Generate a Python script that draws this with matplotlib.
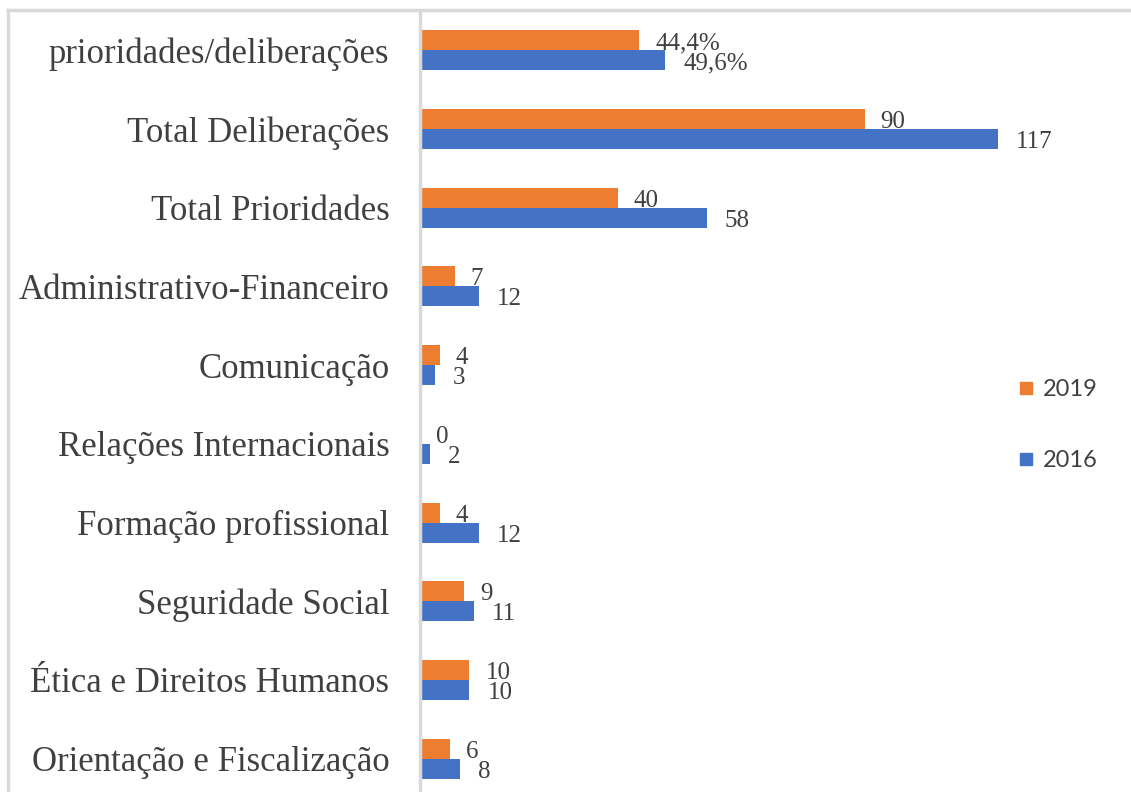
import numpy as np
import matplotlib.pyplot as plt
from matplotlib.lines import Line2D

# categories, top to bottom
categories = ['prioridades/deliberações', 'Total Deliberações', 'Total Prioridades',
              'Administrativo-Financeiro', 'Comunicação', 'Relações Internacionais',
              'Formação profissional', 'Seguridade Social', 'Ética e Direitos Humanos',
              'Orientação e Fiscalização']
vals_2019 = [44.4, 90, 40, 7, 4, 0, 4, 9, 10, 6]
vals_2016 = [49.6, 117, 58, 12, 3, 2, 12, 11, 10, 8]
labels_2019 = ['44,4%', '90', '40', '7', '4', '0', '4', '9', '10', '6']
labels_2016 = ['49,6%', '117', '58', '12', '3', '2', '12', '11', '10', '8']

orange = '#ED7D31'
blue = '#4472C4'
txt = '#404040'
grid = '#D9D9D9'

W, H = 1131, 792
fig = plt.figure(figsize=(W / 100, H / 100), dpi=100)

# plot area in pixel terms
left_px, top_px = 420, 11
bottom_px = 798
xmax = 140
right_px = left_px + xmax * 4.94
ax = fig.add_axes([left_px / W, 1 - bottom_px / H,
                   (right_px - left_px) / W, (bottom_px - top_px) / H])

y = np.arange(len(categories))
h = 0.254
ax.barh(y - h / 2, vals_2019, height=h, color=orange, label='2019')
ax.barh(y + h / 2, vals_2016, height=h, color=blue, label='2016')

ax.set_ylim(len(categories) - 0.5, -0.5)
ax.set_xlim(0, xmax)
ax.set_yticks(y)
ax.set_yticklabels(categories, fontsize=25, color=txt, family='Liberation Serif')
ax.tick_params(axis='y', length=0, pad=22)
ax.set_xticks([])
for s in ['top', 'right', 'bottom']:
    ax.spines[s].set_visible(False)
ax.spines['left'].set_color(grid)
ax.spines['left'].set_linewidth(2.5)

for i in range(len(categories)):
    ax.annotate(labels_2019[i], (vals_2019[i], y[i] - h / 2), xytext=(16, -3),
                textcoords='offset pixels', va='center', ha='left',
                fontsize=18, color=txt, family='Liberation Serif')
    ax.annotate(labels_2016[i], (vals_2016[i], y[i] + h / 2), xytext=(18, -3),
                textcoords='offset pixels', va='center', ha='left',
                fontsize=18, color=txt, family='Liberation Serif')

# legend
fig.legend(handles=[Line2D([], [], marker='s', ls='', color=orange, markersize=8),
                    Line2D([], [], marker='s', ls='', color=blue, markersize=8)],
           labels=['2019', '2016'], loc='center left',
           bbox_to_anchor=(993 / W, 1 - 425 / H), frameon=False,
           prop={'family': 'Lato', 'size': 17}, labelcolor=txt,
           handletextpad=0.2, labelspacing=2.1, handlelength=1.0)

# chart border (top and left only visible)
fig.add_artist(Line2D([8 / W, 1], [1 - 10 / H, 1 - 10 / H], color=grid, lw=2.5,
                      transform=fig.transFigure))
fig.add_artist(Line2D([8 / W, 8 / W], [0, 1 - 10 / H], color=grid, lw=2.5,
                      transform=fig.transFigure))

fig.savefig('out.png', dpi=100)
